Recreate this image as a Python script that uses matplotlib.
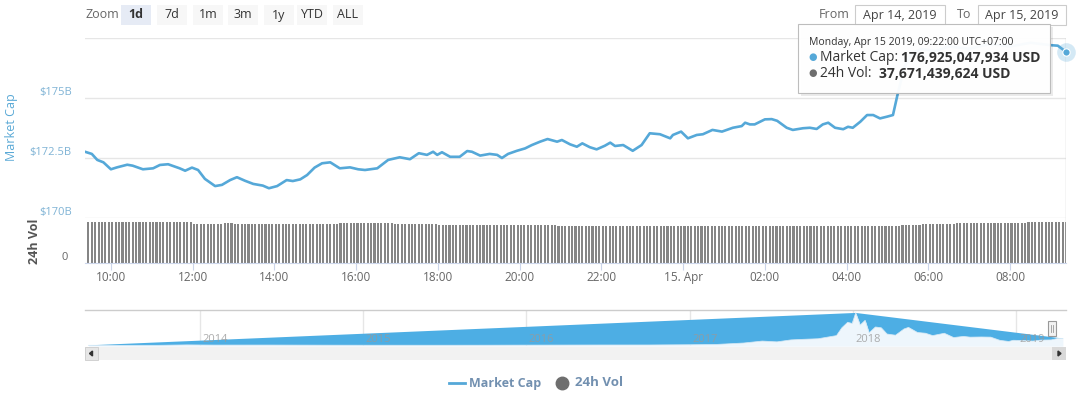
import numpy as np
import pandas as pd
import matplotlib
matplotlib.use("Agg")
import matplotlib.pyplot as plt
import matplotlib.dates as mdates
from matplotlib.patches import Rectangle, Polygon

plt.rcParams['font.family'] = ['Open Sans', 'DejaVu Sans']

# ---- market cap, Apr 14-15 2019 (billions USD) ----
mcap_time = [
    "14 09:22", "14 09:32", "14 09:40", "14 09:49", "14 10:00", "14 10:09", "14 10:24", "14 10:32",
    "14 10:47", "14 11:02", "14 11:12", "14 11:24", "14 11:41", "14 11:49", "14 11:59", "14 12:08",
    "14 12:18", "14 12:33", "14 12:43", "14 12:55", "14 13:05", "14 13:17", "14 13:29", "14 13:43",
    "14 13:52", "14 14:04", "14 14:18", "14 14:27", "14 14:38", "14 14:48", "14 14:59", "14 15:10",
    "14 15:22", "14 15:36", "14 15:51", "14 16:03", "14 16:13", "14 16:31", "14 16:47", "14 17:04",
    "14 17:19", "14 17:32", "14 17:44", "14 17:53", "14 17:59", "14 18:06", "14 18:18", "14 18:32",
    "14 18:43", "14 18:50", "14 19:02", "14 19:16", "14 19:27", "14 19:34", "14 19:43", "14 19:56",
    "14 20:08", "14 20:18", "14 20:30", "14 20:41", "14 20:55", "14 21:02", "14 21:14", "14 21:24",
    "14 21:32", "14 21:43", "14 21:53", "14 22:05", "14 22:13", "14 22:20", "14 22:32", "14 22:46",
    "14 22:59", "14 23:11", "14 23:26", "14 23:41", "14 23:45", "14 23:57", "15 00:07", "15 00:20",
    "15 00:29", "15 00:43", "15 00:57", "15 01:13", "15 01:26", "15 01:31", "15 01:38", "15 01:45",
    "15 02:00", "15 02:10", "15 02:18", "15 02:32", "15 02:41", "15 02:56", "15 03:06", "15 03:16",
    "15 03:25", "15 03:33", "15 03:43", "15 03:55", "15 04:02", "15 04:09", "15 04:20", "15 04:30",
    "15 04:39", "15 04:49", "15 04:59", "15 05:08", "15 05:14", "15 05:17", "15 05:25", "15 05:35",
    "15 05:50", "15 06:10", "15 06:30", "15 07:00", "15 07:30", "15 08:00", "15 08:30", "15 09:00",
    "15 09:10", "15 09:22",
]
mcap = [
    172.76, 172.67, 172.42, 172.32, 172.03, 172.11, 172.22, 172.18,
    172.03, 172.07, 172.21, 172.24, 172.07, 171.97, 172.10, 172.00,
    171.63, 171.33, 171.38, 171.58, 171.70, 171.55, 171.42, 171.35,
    171.24, 171.33, 171.58, 171.54, 171.61, 171.79, 172.10, 172.28,
    172.32, 172.07, 172.11, 172.03, 172.00, 172.07, 172.42, 172.53,
    172.45, 172.70, 172.63, 172.76, 172.63, 172.74, 172.55, 172.55,
    172.79, 172.76, 172.60, 172.67, 172.63, 172.50, 172.67, 172.80,
    172.90, 173.04, 173.18, 173.29, 173.18, 173.25, 173.07, 172.97,
    173.11, 172.95, 172.86, 173.01, 173.14, 173.00, 173.04, 172.80,
    173.04, 173.53, 173.49, 173.32, 173.46, 173.60, 173.32, 173.46,
    173.49, 173.67, 173.60, 173.76, 173.83, 173.97, 173.90, 173.90,
    174.11, 174.12, 174.05, 173.76, 173.67, 173.74, 173.76, 173.71,
    173.90, 173.97, 173.76, 173.70, 173.80, 173.76, 174.01, 174.29,
    174.29, 174.15, 174.22, 174.29, 175.05, 175.40, 176.30, 176.85,
    177.05, 176.95, 177.15, 177.05, 177.25, 177.15, 177.30, 177.20,
    177.18, 176.925,
]

# ---- 24h volume, one bar per 5 minutes (billions USD), one row per hour from 09:27 ----
vol_rows = [
    [37.6, 37.7, 37.6, 37.6, 37.7, 37.5, 37.6, 37.6, 37.7, 37.6, 37.6, 37.5],
    [37.6, 37.6, 37.7, 37.6, 37.5, 37.6, 37.6, 37.6, 37.7, 37.6, 37.6, 37.6],
    [37.6, 37.6, 37.5, 37.6, 37.6, 37.5, 37.6, 35.6, 35.6, 35.5, 35.6, 35.6],
    [35.6, 35.5, 35.6, 35.6, 36.4, 36.5, 36.4, 35.6, 35.5, 35.6, 35.5, 35.6],
    [35.5, 35.6, 35.5, 35.5, 35.6, 35.5, 35.5, 35.6, 35.5, 35.5, 35.5, 35.6],
    [35.5, 35.5, 35.6, 35.5, 35.5, 35.5, 35.6, 35.5, 35.5, 35.6, 35.5, 35.5],
    [35.5, 35.5, 36.1, 36.1, 36.2, 36.1, 36.1, 36.2, 36.1, 36.1, 36.2, 36.1],
    [36.1, 36.2, 36.1, 36.7, 36.8, 36.7, 35.3, 35.3, 35.4, 35.3, 35.3, 35.3],
    [35.3, 35.3, 35.4, 35.3, 35.3, 35.3, 35.3, 34.6, 34.6, 34.7, 34.6, 34.6],
    [34.6, 34.6, 34.7, 34.6, 34.6, 34.6, 34.7, 34.6, 34.6, 34.6, 34.7, 34.6],
    [34.6, 34.7, 34.6, 34.6, 34.6, 34.6, 34.7, 34.6, 34.6, 34.6, 34.6, 34.7],
    [34.6, 34.6, 34.6, 34.7, 34.6, 34.6, 34.0, 34.0, 34.1, 34.0, 34.0, 34.0],
    [34.0, 34.1, 34.0, 34.0, 34.0, 34.1, 34.0, 34.0, 34.0, 33.9, 34.0, 34.0],
    [34.0, 34.0, 33.9, 34.0, 34.0, 34.0, 34.1, 34.0, 33.9, 34.0, 34.0, 33.9],
    [33.9, 34.0, 34.0, 33.9, 34.0, 33.9, 33.9, 34.0, 33.9, 33.9, 34.0, 33.9],
    [33.9, 33.9, 33.8, 33.9, 33.9, 33.8, 33.9, 33.9, 33.8, 33.9, 33.8, 33.9],
    [33.8, 33.9, 33.8, 33.8, 33.9, 33.8, 33.8, 33.8, 33.9, 33.8, 33.8, 33.8],
    [33.8, 33.8, 33.9, 33.8, 33.8, 33.8, 33.8, 33.9, 33.8, 33.8, 33.8, 33.8],
    [33.8, 33.8, 33.8, 33.9, 33.8, 33.8, 33.8, 33.8, 33.8, 33.9, 33.8, 33.8],
    [33.8, 33.8, 33.9, 33.8, 33.8, 33.8, 33.8, 33.9, 33.8, 33.8, 33.8, 34.6],
    [34.6, 34.6, 34.6, 34.6, 34.7, 35.3, 35.3, 35.4, 35.3, 35.3, 35.3, 35.3],
    [35.3, 35.3, 35.4, 36.2, 36.2, 36.2, 36.3, 36.2, 36.2, 36.2, 36.2, 36.3],
    [36.2, 36.2, 36.3, 36.2, 36.2, 36.2, 36.2, 36.3, 36.2, 36.2, 36.2, 36.2],
    [37.5, 37.6, 37.6, 37.5, 37.6, 37.6, 37.7, 37.6, 37.6, 37.6, 37.7, 37.67],
]

# ---- navigator: total market cap since 2013 (billions USD) ----
nav_date = [
    "2013-04-28", "2013-07-05", "2013-10-01", "2013-12-04", "2014-02-01", "2014-06-01",
    "2014-10-01", "2015-01-15", "2015-06-01", "2015-10-01", "2016-01-01", "2016-06-15",
    "2016-10-01", "2017-01-05", "2017-03-01", "2017-05-01", "2017-06-12", "2017-07-15",
    "2017-08-15", "2017-09-01", "2017-10-15", "2017-11-25", "2017-12-07", "2017-12-20",
    "2017-12-30", "2018-01-07", "2018-01-17", "2018-01-28", "2018-02-06", "2018-02-20",
    "2018-03-05", "2018-03-18", "2018-04-06", "2018-04-25", "2018-05-05", "2018-05-25",
    "2018-06-12", "2018-06-28", "2018-07-24", "2018-08-14", "2018-09-05", "2018-09-20",
    "2018-10-15", "2018-11-05", "2018-11-25", "2018-12-15", "2018-12-25", "2019-01-15",
    "2019-02-07", "2019-02-25", "2019-03-20", "2019-04-05", "2019-04-15",
]
nav_mcap = [
    1.5, 1.0, 2.0, 13, 8, 8.5,
    5.5, 4, 3.5, 4.5, 6.5, 10,
    10.5, 17, 24, 60, 110, 90,
    140, 150, 170, 250, 450, 590,
    560, 830, 520, 640, 320, 470,
    450, 290, 260, 420, 460, 330,
    310, 250, 310, 200, 230, 210,
    215, 210, 130, 100, 130, 125,
    110, 135, 140, 180, 177,
]
nav_years = ["2014", "2015", "2016", "2017", "2018", "2019"]

zoom_buttons = ["1d", "7d", "1m", "3m", "1y", "YTD", "ALL"]

W, H = 1080, 393
LINE = "#55a8d8"
NAVBLUE = "#4daee4"


def fx(x):
    return x / W


def fy(y):
    return 1 - y / H


t = pd.to_datetime(["2019-04-" + s for s in mcap_time])
vol = np.array(vol_rows).ravel()
vt = pd.Timestamp("2019-04-14 09:22") + pd.to_timedelta(5 * np.arange(1, len(vol) + 1), unit="min")
t0, t1 = pd.Timestamp("2019-04-14 09:22"), pd.Timestamp("2019-04-15 09:22")

fig = plt.figure(figsize=(W / 100, H / 100), dpi=100)
fig.patch.set_facecolor("white")

# main pane
ax = fig.add_axes([fx(85), fy(218), fx(1066) - fx(85), (218 - 38) / H])
ax.plot(t, mcap, color=LINE, lw=1.9, solid_joinstyle="round", zorder=3)
ax.set_xlim(t0, t1)
ax.set_ylim(170, 177.5)
for v in [170, 172.5, 175, 177.5]:
    ax.axhline(v, color="#e6e6e6", lw=1, zorder=1)
for v, lab in [(170, "$170B"), (172.5, "$172.5B"), (175, "$175B")]:
    ax.annotate(lab, (0, v), xycoords=("axes fraction", "data"), xytext=(-9.5, 4.3),
                textcoords="offset points", ha="right", va="center",
                color="#7fb3d5", fontsize=8)
ax.axis("off")
ax.axvline(t1, color="#d0d0d0", lw=1, zorder=2)
ax.scatter([t[-1]], [mcap[-1]], s=180, color=LINE, alpha=0.25, lw=0, zorder=5, clip_on=False)
ax.scatter([t[-1]], [mcap[-1]], s=28, color=LINE, edgecolor="white", lw=0.8, zorder=6, clip_on=False)

# volume pane
axv = fig.add_axes([fx(85), fy(263), fx(1066) - fx(85), 45 / H])
axv.bar(vt, vol, width=5 / 1440 * 0.62, color="#858585", align="center", lw=0)
axv.set_xlim(t0, t1)
axv.set_ylim(0, 41)
axv.axvline(t1, color="#d0d0d0", lw=1)
for s in ["top", "right", "left"]:
    axv.spines[s].set_visible(False)
axv.spines["bottom"].set_color("#ccd6eb")
axv.set_yticks([])
axv.xaxis.set_major_locator(mdates.HourLocator(byhour=range(0, 24, 2)))
axv.xaxis.set_major_formatter(plt.FuncFormatter(
    lambda x, p: "15. Apr" if mdates.num2date(x).hour == 0 else mdates.num2date(x).strftime("%H:%M")))
axv.tick_params(axis="x", length=4.7, color="#ccd6eb", labelcolor="#666666", labelsize=8.5, pad=1)
fig.text(fx(68), fy(257), "0", ha="right", va="center", color="#666666", fontsize=8)

# axis titles
fig.text(fx(12), fy(127), "Market Cap", rotation=90, ha="center", va="center", color="#5aa9d6", fontsize=9)
fig.text(fx(35), fy(241), "24h Vol", rotation=90, ha="center", va="center", color="#555555",
         fontsize=9, fontweight="bold")

# navigator
axn = fig.add_axes([fx(85), fy(346), fx(1066) - fx(85), 36 / H])
nd = pd.to_datetime(nav_date)
nv = np.array(nav_mcap)
ipk = int(np.argmax(nv))
env_x = [nd[0], nd[ipk], nd[-1]]
env_y = [nv[0], nv[ipk], nv[-1]]
poly_x = mdates.date2num(list(env_x) + list(nd[::-1]))
poly_y = np.array(env_y + list(nv[::-1]))
axn.fill(poly_x, poly_y, color=NAVBLUE, lw=0, zorder=2)
axn.fill_between(nd, nv, -20, color="#eef6fc", lw=0, zorder=2)
axn.plot(nd, nv, color="#cfe6f5", lw=0.6, zorder=3)
axn.set_xlim(pd.Timestamp("2013-04-20"), pd.Timestamp("2019-04-22"))
axn.set_ylim(-15, 905)
for y in nav_years:
    d = pd.Timestamp(y + "-01-01")
    axn.axvline(d, color="#e6e6e6", lw=1, zorder=1)
    axn.annotate(y, (mdates.date2num(d), 0), xycoords=("data", "axes fraction"), xytext=(2, 3),
                 textcoords="offset points", color="#999999", fontsize=8, zorder=4, alpha=0.8)
axn.axis("off")
fig.add_artist(plt.Line2D([fx(85), fx(1066)], [fy(310), fy(310)], color="#cccccc", lw=1))

# navigator handle
fig.add_artist(Rectangle((fx(1048), fy(336)), 8 / W, 15 / H, facecolor="#f2f2f2", edgecolor="#999999", lw=0.8))
for xh in [1051, 1053]:
    fig.add_artist(plt.Line2D([fx(xh), fx(xh)], [fy(332), fy(325)], color="#999999", lw=0.6))

# scrollbar
fig.add_artist(Rectangle((fx(85), fy(360)), (1066 - 85) / W, 13 / H, facecolor="#f2f2f2", lw=0))
fig.add_artist(Rectangle((fx(85), fy(360)), 13 / W, 13 / H, facecolor="#e6e6e6", edgecolor="#cccccc", lw=0.6))
fig.add_artist(Rectangle((fx(1052), fy(360)), 14 / W, 13 / H, facecolor="#d9d9d9", lw=0))
fig.add_artist(Polygon([[fx(89.5), fy(353.5)], [fx(92.5), fy(351)], [fx(92.5), fy(356)]], color="#333333"))
fig.add_artist(Polygon([[fx(1061), fy(353.5)], [fx(1058), fy(351)], [fx(1058), fy(356)]], color="#333333"))

# legend
fig.add_artist(plt.Line2D([fx(449), fx(465)], [fy(383), fy(383)], color=LINE, lw=2))
fig.text(fx(469), fy(383), "Market Cap", ha="left", va="center", color="#7290b0", fontsize=9, fontweight="bold")
fig.add_artist(plt.Line2D([fx(562)], [fy(383)], marker="o", ms=9, color="#6e6e6e", lw=0))
fig.text(fx(575), fy(383), "24h Vol", ha="left", va="center", color="#7290b0", fontsize=9.5, fontweight="bold")

# zoom buttons
fig.text(fx(85), fy(15), "Zoom", ha="left", va="center", color="#666666", fontsize=9)
bx = [121, 157, 193, 228, 264, 297, 333]
for x, lab in zip(bx, zoom_buttons):
    w = 30
    sel = lab == "1d"
    fig.add_artist(Rectangle((fx(x), fy(25)), w / W, 20 / H, facecolor="#e6ebf5" if sel else "#f7f7f7", lw=0))
    fig.text(fx(x + w / 2), fy(15), lab, ha="center", va="center", color="#333333",
             fontsize=9, fontweight="bold" if sel else "normal")

# date range boxes
fig.text(fx(819), fy(15), "From", ha="left", va="center", color="#666666", fontsize=9)
fig.add_artist(Rectangle((fx(855), fy(25)), 90 / W, 20 / H, facecolor="white", edgecolor="#cccccc", lw=0.8))
fig.text(fx(900), fy(15), "Apr 14, 2019", ha="center", va="center", color="#444444", fontsize=9)
fig.text(fx(957), fy(15), "To", ha="left", va="center", color="#666666", fontsize=9)
fig.add_artist(Rectangle((fx(978), fy(25)), 88 / W, 20 / H, facecolor="white", edgecolor="#cccccc", lw=0.8))
fig.text(fx(1022), fy(15), "Apr 15, 2019", ha="center", va="center", color="#444444", fontsize=9)

# tooltip
fig.add_artist(Rectangle((fx(801), fy(96)), 252 / W, 69 / H, facecolor="#000000", alpha=0.08, lw=0))
fig.add_artist(Rectangle((fx(798), fy(93)), 252 / W, 69 / H, facecolor="white", edgecolor="#bbbbbb", lw=0.8, alpha=0.97))
fig.text(fx(809), fy(43), "Monday, Apr 15 2019, 09:22:00 UTC+07:00", ha="left", va="center",
         color="#333333", fontsize=7.5)
fig.text(fx(808), fy(57.5), "\u25cf", ha="left", va="center", color=LINE, fontsize=7)
fig.text(fx(820), fy(57.5), "Market Cap:", ha="left", va="center", color="#333333", fontsize=10)
fig.text(fx(901), fy(57.5), "176,925,047,934 USD", ha="left", va="center", color="#333333",
         fontsize=10, fontweight="bold")
fig.text(fx(808), fy(73.5), "\u25cf", ha="left", va="center", color="#6e6e6e", fontsize=7)
fig.text(fx(820), fy(73.5), "24h Vol:", ha="left", va="center", color="#333333", fontsize=10)
fig.text(fx(879), fy(73.5), "37,671,439,624 USD", ha="left", va="center", color="#333333",
         fontsize=10, fontweight="bold")

fig.savefig("out.png", dpi=100)
